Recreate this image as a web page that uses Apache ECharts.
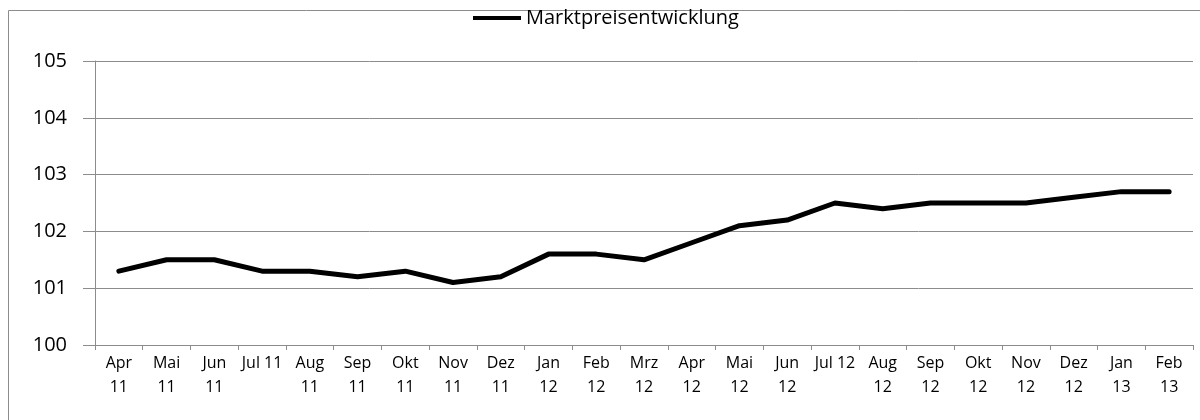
<!DOCTYPE html>
<html>
<head>
<meta charset="utf-8">
<script src="https://cdn.jsdelivr.net/npm/echarts@6/dist/echarts.min.js"></script>
<style>html,body{margin:0;padding:0;background:#fff;}#c{width:1200px;height:420px;}</style>
</head>
<body>
<div id="c"></div>
<script>
const categories = ["Apr\n11","Mai\n11","Jun\n11","Jul 11","Aug\n11","Sep\n11","Okt\n11","Nov\n11","Dez\n11","Jan\n12","Feb\n12","Mrz\n12","Apr\n12","Mai\n12","Jun\n12","Jul 12","Aug\n12","Sep\n12","Okt\n12","Nov\n12","Dez\n12","Jan\n13","Feb\n13"];
const seriesName = "Marktpreisentwicklung";
const values = [101.3,101.5,101.5,101.3,101.3,101.2,101.3,101.1,101.2,101.6,101.6,101.5,101.8,102.1,102.2,102.5,102.4,102.5,102.5,102.5,102.6,102.7,102.7];
const yMin = 100, yMax = 105, yInterval = 1;

const chart = echarts.init(document.getElementById('c'), null, {renderer:'canvas'});
const font = "'Open Sans', 'Liberation Sans', sans-serif";
chart.setOption({
  animation:false,
  backgroundColor:'#fff',
  textStyle:{fontFamily:font},
  graphic:[{type:'rect',shape:{x:8.5,y:10.5,width:1200,height:420},style:{fill:'none',stroke:'#8c8c8c',lineWidth:1},silent:true}],
  legend:{
    data:[seriesName],
    left:468, top:3,
    itemWidth:48, itemHeight:20, itemGap:4,
    icon:'path://M0,8 L48,8 L48,12 L0,12 Z',
    textStyle:{fontFamily:font,fontSize:20,color:'#000'}
  },
  grid:{left:95,right:7,top:61,bottom:75,containLabel:false},
  xAxis:{
    type:'category',
    data:categories,
    boundaryGap:true,
    axisLine:{lineStyle:{color:'#8c8c8c',width:1}},
    axisTick:{show:true,length:5,lineStyle:{color:'#8c8c8c'},alignWithLabel:false},
    axisLabel:{interval:0,fontFamily:font,fontSize:16,color:'#000',lineHeight:24,margin:6}
  },
  yAxis:{
    type:'value',min:yMin,max:yMax,interval:yInterval,
    axisLine:{show:true,lineStyle:{color:'#8c8c8c',width:1}},
    axisTick:{show:true,length:12,lineStyle:{color:'#8c8c8c'}},
    axisLabel:{fontFamily:font,fontSize:20,color:'#000',margin:28},
    splitLine:{lineStyle:{color:'#8c8c8c',width:1}}
  },
  series:[{
    name:seriesName,type:'line',data:values,
    symbol:'none',
    lineStyle:{color:'#000',width:5,join:'round',cap:'round'},
    itemStyle:{color:'#000'}
  }]
});
</script>
</body>
</html>
